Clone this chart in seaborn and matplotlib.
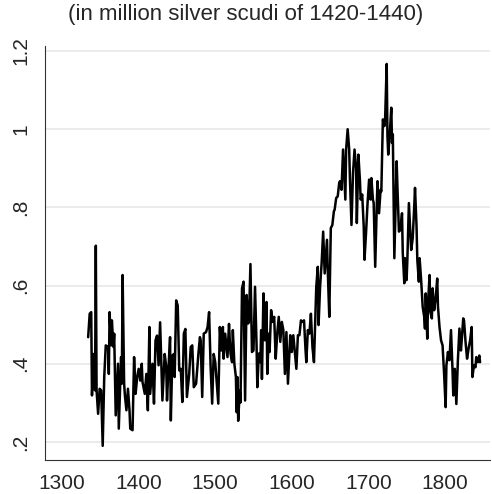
import pandas as pd
import matplotlib
matplotlib.use("Agg")
import matplotlib.pyplot as plt
import seaborn as sns

# values
years = [
    1334, 1336, 1338, 1339, 1341, 1343, 1344, 1345, 1347, 1349, 1351, 1353, 1355, 1357,
    1360, 1361, 1362, 1364, 1365, 1367, 1368, 1370, 1373, 1374, 1377, 1378, 1379, 1381,
    1382, 1384, 1386, 1388, 1389, 1392, 1394, 1396, 1398, 1400, 1402, 1404, 1405, 1408,
    1410, 1412, 1414, 1415, 1418, 1420, 1422, 1424, 1426, 1428, 1431, 1434, 1436, 1437,
    1439, 1441, 1442, 1444, 1446, 1447, 1449, 1451, 1453, 1455, 1457, 1459, 1461, 1463,
    1466, 1468, 1470, 1472, 1475, 1478, 1480, 1481, 1483, 1485, 1488, 1490, 1492, 1494,
    1496, 1498, 1500, 1504, 1506, 1508, 1510, 1511, 1513, 1516, 1518,
    1519, 1520, 1522, 1523, 1525, 1527, 1528, 1529, 1530, 1532, 1533, 1535, 1537, 1539,
    1541, 1543, 1544, 1546, 1548, 1550, 1552, 1554, 1555, 1557, 1559, 1560, 1561, 1563,
    1565, 1567, 1568, 1570, 1571, 1573, 1575, 1577, 1579, 1581, 1583, 1585, 1587, 1589,
    1591, 1593, 1595, 1598, 1600, 1602, 1604, 1606, 1608, 1610, 1612, 1614, 1616, 1618,
    1619, 1621, 1623, 1625, 1627, 1629, 1632, 1634, 1635, 1637, 1639, 1641, 1643, 1646,
    1647, 1649, 1651, 1653, 1655, 1656, 1658, 1660, 1662, 1663, 1665, 1667, 1668, 1670,
    1671, 1673, 1675, 1676, 1678, 1680, 1682, 1684, 1685, 1687, 1689, 1690, 1692, 1694,
    1695, 1697, 1699, 1701, 1703, 1704, 1706, 1707,
    1709, 1711, 1712, 1714, 1716, 1717, 1719, 1721, 1722, 1724, 1725, 1726, 1728, 1730,
    1731, 1732, 1734, 1737, 1738, 1740, 1742, 1744, 1745, 1747, 1748, 1750, 1751, 1753,
    1755, 1756, 1758, 1760, 1761, 1763, 1764, 1766, 1767, 1769, 1771, 1773, 1774, 1775,
    1777, 1778, 1780, 1781, 1783, 1784, 1786, 1788, 1790, 1791, 1793, 1795, 1797, 1799,
    1801, 1802, 1804, 1806, 1808, 1810, 1811, 1813, 1815, 1817, 1819, 1821, 1822, 1824,
    1825, 1827, 1829, 1831, 1833, 1835, 1836, 1838, 1840, 1841, 1843, 1845, 1846,
]
revenue = [
    .468, .528, .532, .319, .425, .332, .702, .332, .272, .336, .332, .190, .366, .447,
    .443, .374, .532, .447, .511, .443, .477, .268, .400, .234, .417, .349, .627, .349,
    .319, .281, .336, .281, .234, .230, .417, .323, .366, .387, .357, .400, .353, .323,
    .374, .281, .494, .323, .400, .298, .460, .472, .396, .506, .306, .425, .391, .306,
    .391, .468, .255, .421, .425, .366, .562, .549, .383, .387, .302, .477, .489, .315,
    .374, .443, .447, .340, .349, .425, .468, .460, .315, .477, .481, .494, .532, .391,
    .298, .425, .404, .298, .494, .434, .494, .413, .477, .417, .502,
    .460, .426, .404, .486, .400, .366, .276, .366, .254, .331, .301, .593, .610, .306,
    .576, .503, .507, .655, .430, .434, .597, .447, .340, .426, .404, .486, .361, .580,
    .460, .558, .374, .477, .430, .537, .507, .520, .413, .477, .520, .456, .507, .486,
    .374, .481, .349, .473, .430, .473, .430, .387, .473, .473, .511, .507, .511, .434,
    .404, .486, .477, .528, .443, .404, .597, .648, .499, .597, .657, .738, .631, .717,
    .640, .520, .747, .755, .790, .794, .824, .828, .863, .867, .845, .948, .905, .820,
    .948, 1.000, .948, .871, .755, .888, .948, .901, .760, .935, .871, .820, .833, .751,
    .666, .734, .811, .871, .820, .875, .820, .811,
    .648, .803, .867, .785, .845, .841, 1.025, 1.008, 1.030, 1.167, .982, .935, .987, 1.055,
    .965, .987, .670, .918, .854, .738, .743, .785, .683, .606, .670, .614, .666, .811,
    .734, .691, .721, .803, .850, .751, .666, .610, .670, .614, .546, .520, .490, .580,
    .464, .554, .627, .533, .516, .593, .537, .567, .618, .546, .494, .460, .447, .374,
    .289, .396, .430, .409, .486, .383, .319, .387, .297, .409, .490, .434, .460, .516,
    .511, .456, .413, .439, .460, .494, .366, .396, .391, .417, .404, .421, .404,
]
x_ticks = [1300, 1400, 1500, 1600, 1700, 1800]
y_ticks = [0.2, 0.4, 0.6, 0.8, 1.0, 1.2]
y_labels = [".2", ".4", ".6", ".8", "1", "1.2"]
subtitle = "(in million silver scudi of 1420-1440)"

df = pd.DataFrame({"year": years, "revenue": revenue})

sns.set_style("white")
plt.rcParams['font.family'] = ['Liberation Sans', 'DejaVu Sans']

fig = plt.figure(figsize=(4.92, 4.94), dpi=100)
ax = fig.add_axes([0.0905, 0.069, 0.9055, 0.838])

sns.lineplot(data=df, x="year", y="revenue", ax=ax, color="black", linewidth=1.8)

ax.set_xlim(1277, 1859)
ax.set_ylim(0.154, 1.213)
ax.set_xticks(x_ticks)
ax.set_yticks(y_ticks)
ax.set_yticklabels(y_labels, rotation=90, va="center")
ax.tick_params(axis="both", direction="out", length=6.5, width=0.8, color="#333333",
               labelsize=15, pad=4)
ax.grid(axis="y", color="#e6e6e6", linewidth=1.1)
ax.set_axisbelow(True)
ax.set_xlabel("")
ax.set_ylabel("")
for side in ["top", "right"]:
    ax.spines[side].set_visible(False)
for side in ["left", "bottom"]:
    ax.spines[side].set_color("#333333")
    ax.spines[side].set_linewidth(0.8)

fig.text(0.5, 0.97, subtitle, ha="center", va="center", fontsize=16)

fig.savefig("out.png", dpi=100)
